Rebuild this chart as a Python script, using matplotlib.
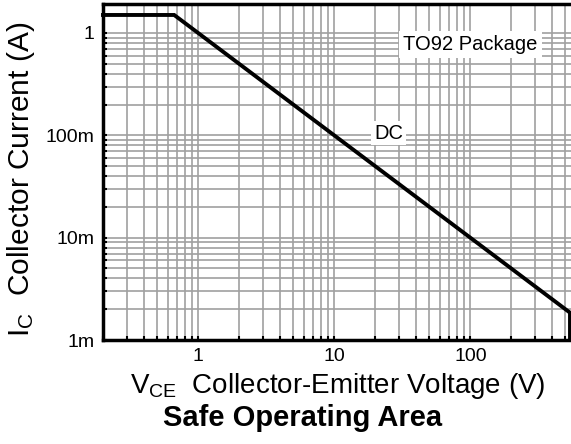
import matplotlib
matplotlib.use("Agg")
import matplotlib.pyplot as plt
from matplotlib.ticker import LogLocator, FixedLocator, FixedFormatter, NullFormatter

plt.rcParams['font.family'] = ['Liberation Sans', 'DejaVu Sans']
plt.rcParams['mathtext.fontset'] = 'custom'
plt.rcParams['mathtext.rm'] = 'Liberation Sans'
plt.rcParams['mathtext.it'] = 'Liberation Sans'

# Data
vce = [0.2, 0.667, 540, 540]          # V
ic = [1.5, 1.5, 1.85e-3, 1.0e-3]      # A
x_ticks = [1, 10, 100]
x_ticklabels = ["1", "10", "100"]
y_ticks = [1e-3, 1e-2, 1e-1, 1]
y_ticklabels = ["1m", "10m", "100m", "1"]

fig = plt.figure(figsize=(5.71, 4.44), dpi=100)
ax = fig.add_axes([103/571, 1-340/444, 1-103/571 + 0.002, (340-4)/444])
ax.set_xscale('log')
ax.set_yscale('log')
ax.set_xlim(0.2, 560)
ax.set_ylim(1e-3, 1.92)

ax.xaxis.set_major_locator(FixedLocator(x_ticks))
ax.xaxis.set_major_formatter(FixedFormatter(x_ticklabels))
ax.xaxis.set_minor_locator(LogLocator(base=10, subs=range(2, 10), numticks=20))
ax.xaxis.set_minor_formatter(NullFormatter())
ax.yaxis.set_major_locator(FixedLocator(y_ticks))
ax.yaxis.set_major_formatter(FixedFormatter(y_ticklabels))
ax.yaxis.set_minor_locator(LogLocator(base=10, subs=range(2, 10), numticks=20))
ax.yaxis.set_minor_formatter(NullFormatter())

ax.grid(True, which='both', color='#a0a0a0', linewidth=1.2)
ax.set_axisbelow(True)
ax.tick_params(which='both', direction='in', length=3, width=1.5, color='black',
               labelsize=14)
ax.tick_params(axis='x', pad=6)
ax.tick_params(axis='y', pad=6)

for s in ['left', 'bottom', 'top']:
    ax.spines[s].set_linewidth(2.5)
ax.spines['right'].set_visible(False)

ax.plot(vce, ic, color='black', linewidth=2.8, solid_joinstyle='miter', clip_on=False)

ax.text(100, 0.77, "TO92 Package", ha='center', va='center', fontsize=14.5,
        bbox=dict(facecolor='white', edgecolor='none', pad=3))
ax.text(25, 0.105, "DC", ha='center', va='center', fontsize=14.5,
        bbox=dict(facecolor='white', edgecolor='none', pad=2))

fig.text(338/571, 1-393/444, r"V$_{\mathrm{CE}}$  Collector-Emitter Voltage (V)",
         ha='center', va='baseline', fontsize=20)
fig.text(303/571, 1-426/444, "Safe Operating Area", ha='center', va='baseline',
         fontsize=21, fontweight='bold')
fig.text(37/571, 1-179/444, r"I$_{\mathrm{C}}$  Collector Current (A)",
         ha='right', va='center', rotation=90, fontsize=21.5)

fig.savefig("out.png", dpi=100)
